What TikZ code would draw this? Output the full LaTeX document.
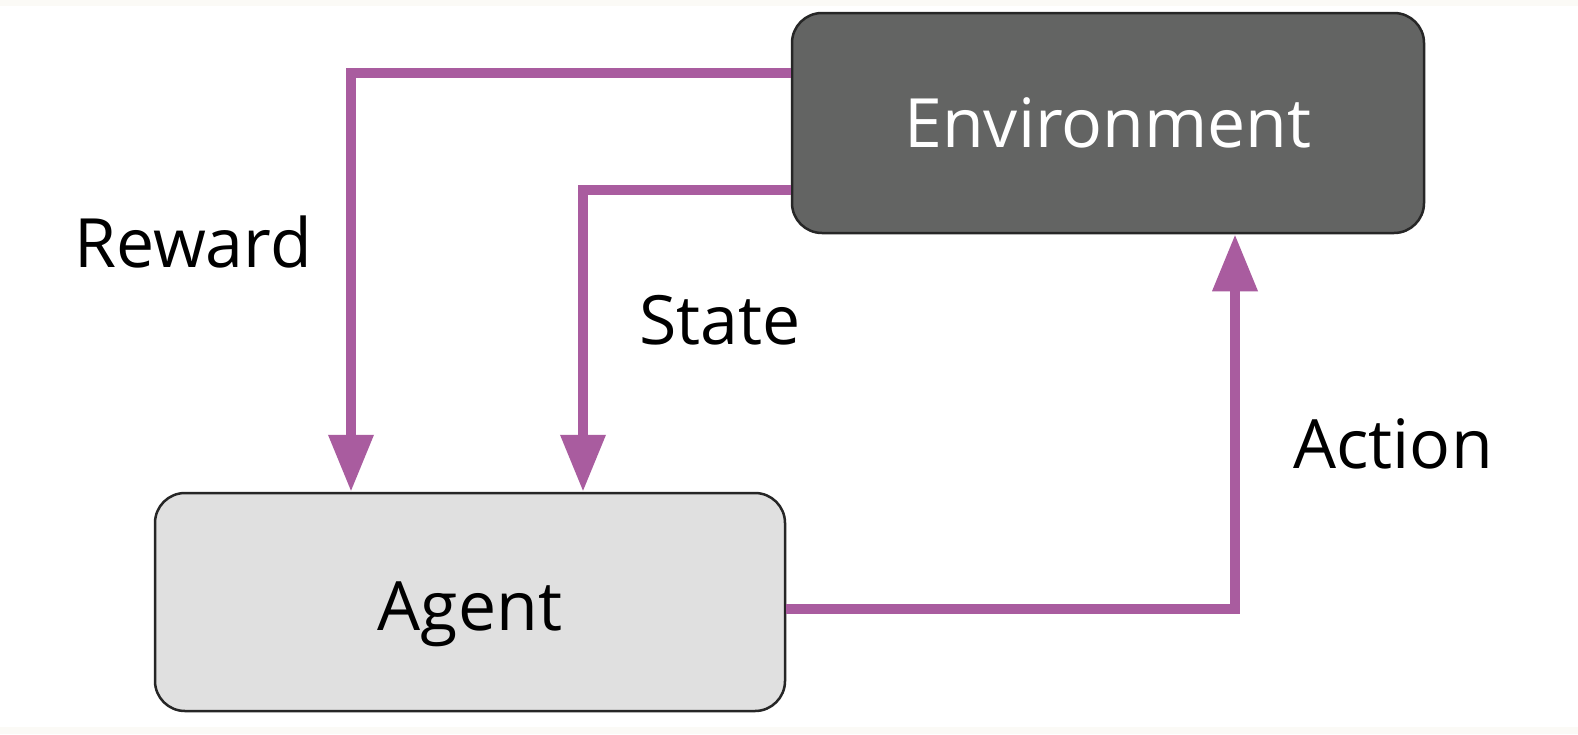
\documentclass[tikz,border=0pt]{standalone}
\usepackage{fontspec}
\setmainfont{Open Sans}
\usetikzlibrary{arrows.meta}
\definecolor{flowc}{HTML}{A95C9F}
\definecolor{envc}{HTML}{636463}
\definecolor{agc}{HTML}{E0E0E0}
\definecolor{bgc}{HTML}{FBFAF6}
\tikzset{
  box/.style={draw=black!85, line width=2.5pt, rounded corners=30pt, inner sep=0pt},
  flow/.style={draw=flowc, line width=10pt, -{Triangle[width=43pt,length=57pt]}},
  bigfont/.style={font=\fontsize{68}{70}\selectfont},
  lbl/.style={bigfont, text=black, inner sep=0pt},
}
\begin{document}
\begin{tikzpicture}[x=1pt,y=-1pt]
\fill[bgc] (0,0) rectangle (1578,734);
\fill[white] (0,6) rectangle (1578,727);
\useasboundingbox (0,0) rectangle (1578,734);
\node[box, fill=envc, minimum width=632pt, minimum height=220pt, text=white, bigfont] (env) at (1108,123) {Environment};
\node[box, fill=agc, minimum width=630pt, minimum height=218pt, bigfont, text depth=0pt] (agent) at (470,602) {\raisebox{-8pt}{Agent}};
\coordinate (r1) at (351,73);
\coordinate (s1) at (583,190);
\coordinate (a1) at (1235,609);
\draw[flow] (env.west |- r1) -| (agent.north -| r1);
\draw[flow] (env.west |- s1) -| (agent.north -| s1);
\draw[flow] (agent.east |- a1) -| (env.south -| a1);
\node[lbl] (rl) at (193,242) {Reward};
\node[lbl] (sl) at (720,320) {State};
\node[lbl] (al) at (1393,444) {Action};
\end{tikzpicture}
\end{document}
